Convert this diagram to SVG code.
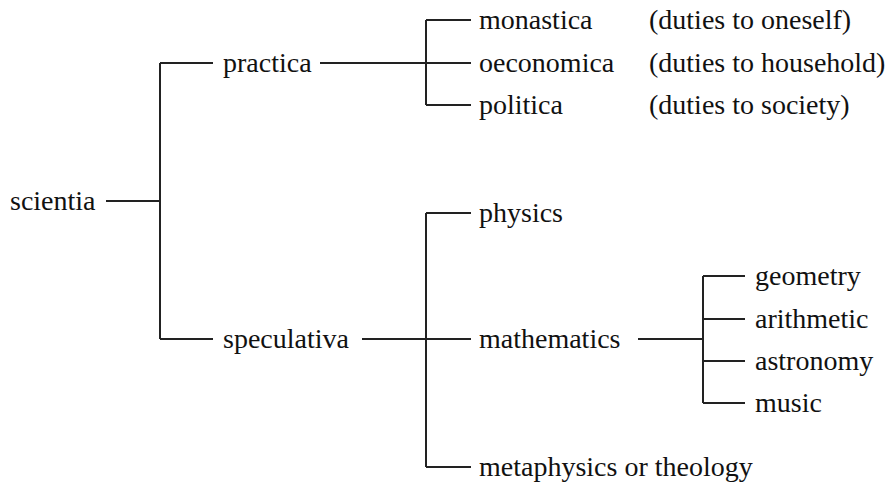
<svg xmlns="http://www.w3.org/2000/svg" width="892" height="485" viewBox="0 0 892 485">
<style>
.c{stroke:#222;stroke-width:2;fill:none}
text{font-family:"Liberation Serif","Times New Roman",serif;font-size:28px;fill:#111}
</style>
<rect width="892" height="485" fill="#fff"/>
<g id="connectors" class="c">
<path d="M106 201H160M160 63V339M160 63H213M160 339H213"/>
<path d="M320 63H471M426 20V105M426 20H471M426 105H471"/>
<path d="M362 339H471M426 213V467M426 213H471M426 467H471"/>
<path d="M638 339H703M703 276V403M703 276H745M703 319H745M703 361H745M703 403H745"/>
</g>
<g id="scientia"><text x="10" y="210">scientia</text></g>
<g id="practica"><text x="223" y="72">practica</text></g>
<g id="speculativa"><text x="223" y="348">speculativa</text></g>
<g id="monastica"><text x="479" y="29">monastica</text><text x="649" y="29">(duties to oneself)</text></g>
<g id="oeconomica"><text x="479" y="72">oeconomica</text><text x="649" y="72">(duties to household)</text></g>
<g id="politica"><text x="479" y="114">politica</text><text x="649" y="114">(duties to society)</text></g>
<g id="physics"><text x="479" y="222">physics</text></g>
<g id="mathematics"><text x="479" y="348">mathematics</text></g>
<g id="metaphysics"><text x="479" y="476">metaphysics or theology</text></g>
<g id="geometry"><text x="755" y="285">geometry</text></g>
<g id="arithmetic"><text x="755" y="328">arithmetic</text></g>
<g id="astronomy"><text x="755" y="370">astronomy</text></g>
<g id="music"><text x="755" y="412">music</text></g>
</svg>
